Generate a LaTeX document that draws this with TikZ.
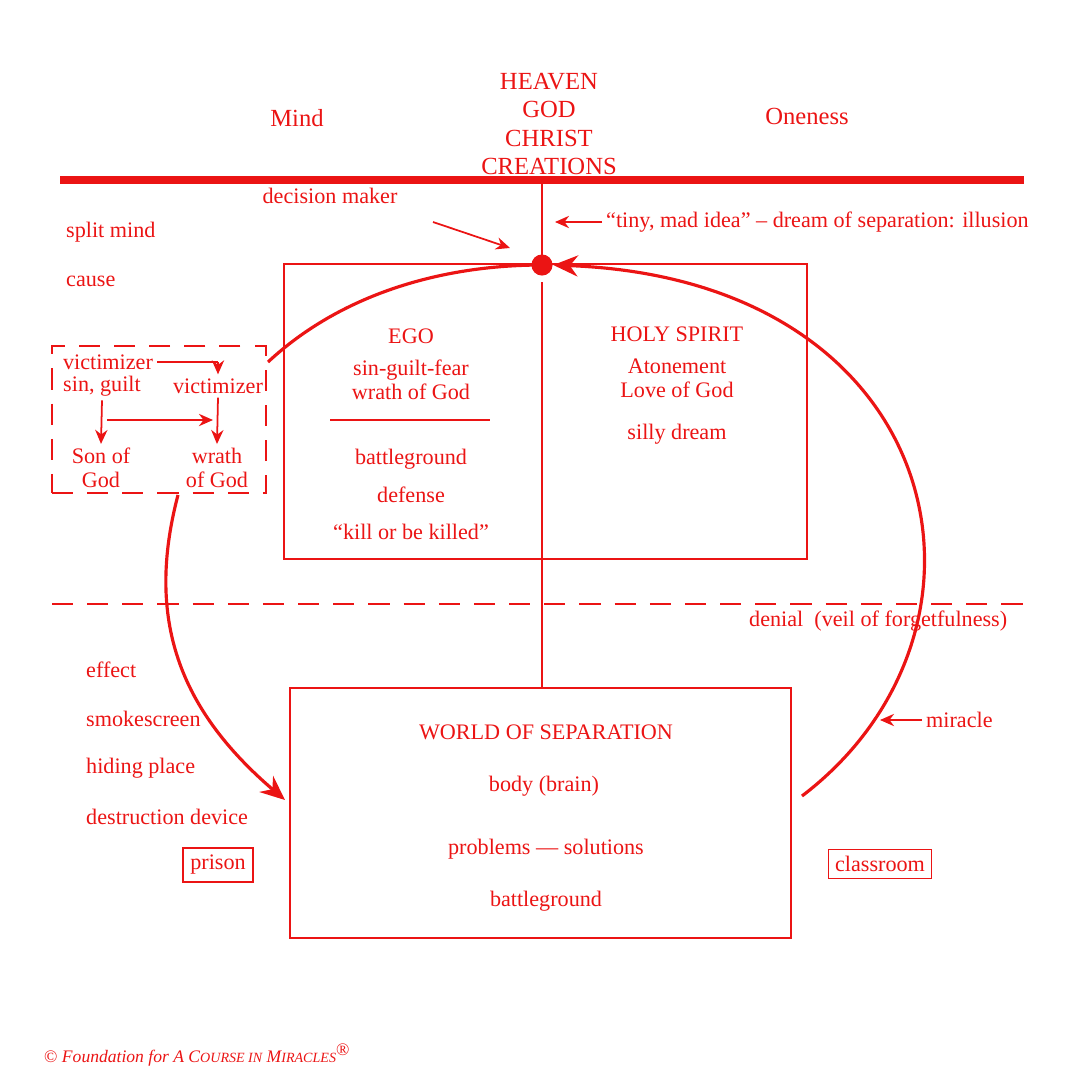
\documentclass[tikz,border=0pt]{standalone}
\usepackage{fontspec}
\setmainfont{Liberation Serif}
\usetikzlibrary{arrows.meta, positioning, calc}
\definecolor{acim}{RGB}{235,20,20}
\begin{document}
\begin{tikzpicture}[
    x=0.01cm, y=-0.01cm,
    >={Stealth[length=4pt,width=3.5pt]},
    every node/.style={text=acim, font=\fontsize{6.3}{7.3}\selectfont, inner sep=1pt},
    lbl/.style={anchor=west},
    box/.style={draw=acim, line width=0.5pt},
    flow/.style={->, draw=acim, line width=0.5pt},
    arc/.style={draw=acim, line width=0.9pt}
]
\useasboundingbox (0,0) rectangle (1080,1087);

% top
\node (heaven) at (549,124) [align=center, font=\fontsize{7}{8.1}\selectfont] {HEAVEN\\GOD\\CHRIST\\CREATIONS};
\node (mind) at (297,118) [font=\fontsize{7}{8}\selectfont] {Mind};
\node (oneness) at (807,116) [font=\fontsize{7}{8}\selectfont] {Oneness};
\coordinate (tl) at (60,180);
\coordinate (tr) at (1024,180);
\draw[acim, line width=2.2pt] (tl) -- (tr);

% decision point
\node (dot) at (542,265) [circle, fill=acim, minimum size=6pt, inner sep=0pt] {};
\coordinate (top) at (542,180);
\coordinate (bot) at (542,688);
\draw[acim, line width=0.5pt] (top) -- (dot.center);
\draw[acim, line width=0.5pt] (542,282) -- (bot);

\node (dm) at (330,196) {decision maker};
\coordinate (dmA) at (433,222);
\coordinate (dmB) at (510,248);
\draw[flow] (dmA) -- (dmB);
\node (tiny) at (602,222) [lbl] {``tiny, mad idea'' -- dream of separation: illusion};
\coordinate (tinyB) at (555,222);
\draw[flow] (tiny.west) -- (tinyB);
\node (split) at (62,232) [lbl] {split mind};
\node (cause) at (62,281) [lbl] {cause};

% split mind box
\node (mbox) at (545.5,411.5) [box, minimum width=5.23cm, minimum height=2.95cm] {};
\node (ego) at (411,336) [align=center] {EGO};
\node (sgf) at (411,380) [align=center, font=\fontsize{6.3}{6.8}\selectfont] {sin-guilt-fear\\wrath of God};
\coordinate (egoL) at (330,420);
\coordinate (egoR) at (490,420);
\draw[acim, line width=0.5pt] (egoL) -- (egoR);
\node (battle) at (411,459) {battleground};
\node (defense) at (411,495) {defense};
\node (kill) at (411,532) {``kill or be killed''};
\node (hs) at (677,334) {HOLY SPIRIT};
\node (aton) at (677,378) [align=center, font=\fontsize{6.3}{6.8}\selectfont] {Atonement\\Love of God};
\node (silly) at (677,434) {silly dream};

% victim box
\node (vbox) at (159,419.5) [box, dashed, dash pattern=on 6pt off 4pt, minimum width=2.14cm, minimum height=1.47cm] {};
\node (v1) at (108,362) {victimizer};
\node (sg) at (102,386) {sin, guilt};
\node (v2) at (218,386) {victimizer};
\node (son) at (101,468) [align=center, font=\fontsize{6.3}{6.8}\selectfont] {Son of\\God};
\node (wrath) at (217,468) [align=center, font=\fontsize{6.3}{6.8}\selectfont] {wrath\\of God};
\coordinate (v1c) at (218,362);
\draw[acim, line width=0.5pt] (v1.east) -- (v1c);
\draw[flow] (v1c) -- (v2.north);
\draw[flow] (sg.south) -- (son.north);
\draw[flow] (v2.south) -- (wrath.north);
\coordinate (hA) at (107,420);
\coordinate (hB) at (213,420);
\draw[flow] (hA) -- (hB);

% veil
\coordinate (vl) at (52,604);
\coordinate (vr) at (1032,604);
\draw[acim, dashed, dash pattern=on 6pt off 4pt, line width=0.5pt] (vl) -- (vr);
\node (denial) at (745,621) [lbl] {denial\ \ (veil of forgetfulness)};

% world
\node (wbox) at (540.5,813) [box, minimum width=5.01cm, minimum height=2.5cm] {};
\node (wos) at (546,732) {WORLD OF SEPARATION};
\node (body) at (544,786) {body (brain)};
\node (prob) at (546,849) {problems --- solutions};
\node (bg2) at (546,901) {battleground};

\node (eff) at (82,670) [lbl] {effect};
\node (smoke) at (82,719) [lbl] {smokescreen};
\node (hide) at (82,768) [lbl] {hiding place};
\node (dest) at (82,817) [lbl] {destruction device};
\node (prison) at (218,865) [box, inner sep=2pt] {prison};
\node (class) at (880,864) [box, inner sep=2pt, line width=0.3pt] {classroom};
\node (mir) at (922,720) [lbl] {miracle};
\coordinate (mirB) at (880,720);
\draw[flow] (mir.west) -- (mirB);

% arcs
\coordinate (aL) at (268,362);
\draw[arc] (aL) .. controls (340,295) and (440,265) .. (dot.center);
\coordinate (aB) at (178,495);
\coordinate (aE) at (285,800);
\draw[arc, -{Stealth[length=7pt,width=6pt]}] (aB) .. controls (145,620) and (180,710) .. (aE);
\coordinate (rS) at (802,796);
\draw[arc, -{Stealth[length=7pt,width=6pt]}] (rS) .. controls (1020,630) and (950,280) .. (dot.east);

\node (copy) at (40,1055) [lbl, font=\fontsize{5}{6}\selectfont] {\textcopyright\ \textit{Foundation for A C{\fontsize{4}{5}\selectfont OURSE IN} M{\fontsize{4}{5}\selectfont IRACLES}}\textsuperscript{\textregistered}};
\end{tikzpicture}
\end{document}
